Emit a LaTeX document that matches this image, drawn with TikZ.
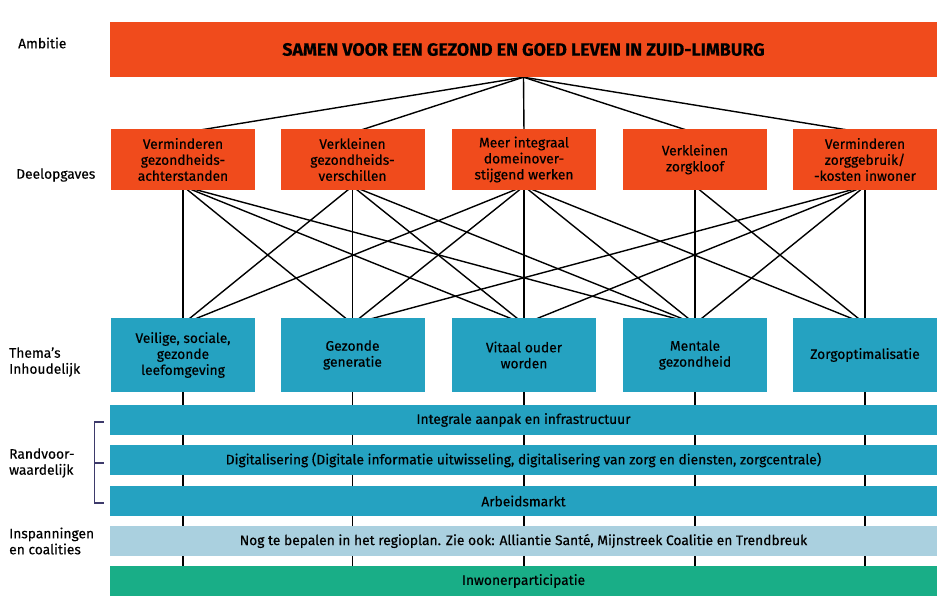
\documentclass[tikz,border=0pt]{standalone}
\usepackage{fontspec}
\setmainfont{Fira Sans}[FakeBold=0.4]
\usepackage{xcolor}
\usepackage{tikz}
\usetikzlibrary{backgrounds}
\definecolor{zlorange}{HTML}{F04B1C}
\definecolor{zlteal}{HTML}{25A2C1}
\definecolor{zllight}{HTML}{AAD0DF}
\definecolor{zlgreen}{HTML}{19AE87}
\definecolor{zlbracket}{HTML}{3D3A6B}
\tikzset{
  ambbox/.style={fill=zlorange, minimum width=827pt, minimum height=55pt, inner sep=0pt,
                 font=\fontsize{17.8}{20}\selectfont\bfseries},
  deelbox/.style={fill=zlorange, minimum width=144pt, minimum height=61pt, align=center, inner sep=0pt},
  themabox/.style={fill=zlteal, minimum width=144pt, minimum height=74pt, align=center, inner sep=0pt},
  band/.style={minimum width=827pt, minimum height=30pt, inner sep=0pt},
  rowlabel/.style={anchor=west, align=left, inner sep=0pt},
  link/.style={line width=1.4pt},
}

\begin{document}
\begin{tikzpicture}[x=1pt, y=-1pt, font=\fontsize{13.8}{16}\selectfont]
    \useasboundingbox (0,0) rectangle (952,604);
    \node[ambbox] (amb) at (523.5,49.5) {SAMEN VOOR EEN GEZOND EN GOED LEVEN IN ZUID-LIMBURG};
    \node[deelbox] (d1) at (183,159.5)   {Verminderen\\gezondheids-\\achterstanden};
    \node[deelbox] (d2) at (352.5,159.5) {Verkleinen\\gezondheids-\\verschillen};
    \node[deelbox] (d3) at (524,159.5)   {Meer integraal\\domeinover-\\stijgend werken};
    \node[deelbox] (d4) at (695,159.5)   {Verkleinen\\zorgkloof};
    \node[deelbox] (d5) at (865,159.5)   {Verminderen\\zorggebruik/\\-kosten inwoner};
    \node[themabox] (t1) at (183,355)   {Veilige, sociale,\\gezonde\\leefomgeving};
    \node[themabox] (t2) at (352.5,355) {Gezonde\\generatie};
    \node[themabox] (t3) at (524,355)   {Vitaal ouder\\worden};
    \node[themabox] (t4) at (695,355)   {Mentale\\gezondheid};
    \node[themabox] (t5) at (865,355)   {Zorgoptimalisatie};
    \node[band, fill=zlteal]  (infra)  at (523.5,420) {Integrale aanpak en infrastructuur};
    \node[band, fill=zlteal]  (digi)   at (523.5,460) {Digitalisering (Digitale informatie uitwisseling, digitalisering van zorg en diensten, zorgcentrale)};
    \node[band, fill=zlteal]  (arbeid) at (523.5,501) {Arbeidsmarkt};
    \node[band, fill=zllight] (inspan) at (523.5,541) {Nog te bepalen in het regioplan. Zie ook: Alliantie Santé, Mijnstreek Coalitie en Trendbreuk};
    \node[band, fill=zlgreen] (inw)    at (523.5,581) {Inwonerparticipatie};
    % rij-labels links
    \node[rowlabel] (lamb)   at (18,43)  {Ambitie};
    \node[rowlabel] (ldeel)  at (16,175) {Deelopgaves};
    \node[rowlabel] (lthema) at (9,362)  {Thema’s\\Inhoudelijk};
    \node[rowlabel] (lrand)  at (9,463)  {Randvoor-\\waardelijk};
    \node[rowlabel] (linsp)  at (9,541)  {Inspanningen\\en coalities};
    \draw[zlbracket, line width=1.2pt] ([xshift=-6pt,yshift=-2pt]infra.west) -- ++(-9,0)
        |- ([xshift=-6pt,yshift=-2pt]arbeid.west);
    \draw[zlbracket, line width=1.2pt] ([xshift=-15pt,yshift=-3pt]digi.west) -- ++(9,0);
    \begin{scope}[on background layer]
      \foreach \d in {1,...,5} { \draw[link] (amb.south) -- ([yshift=-4pt]d\d.north); }
      \foreach \d/\t in {1/1,1/2,1/3,1/4,2/1,2/2,2/3,2/4,3/1,3/2,3/3,3/4,3/5,4/4,4/5,5/2,5/3,5/4,5/5}
        { \draw[link] ([yshift=4pt]d\d.south) -- ([yshift=-6pt]t\t.north); }
      \foreach \t in {1,...,5} { \draw[link] (t\t.south) -- (t\t.south |- inw.north); }
    \end{scope}
\end{tikzpicture}
\end{document}
